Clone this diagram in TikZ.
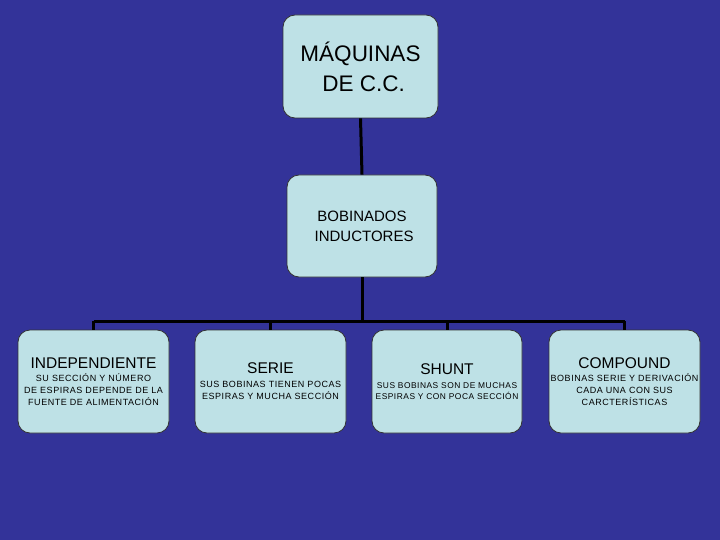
\documentclass[tikz,border=0pt]{standalone}
\usepackage{fontspec}
\setmainfont{Liberation Sans}
\newfontfamily\spaced[LetterSpace=6]{Liberation Sans}
\definecolor{bgblue}{RGB}{51,51,153}
\definecolor{boxfill}{RGB}{190,225,230}
\tikzset{
  box/.style={draw=black!80, line width=0.8pt, fill=boxfill, rounded corners=12pt,
    minimum width=151pt, minimum height=103pt, inner sep=0pt, align=center, text=black},
  conn/.style={line width=3pt, draw=black},
  small/.style={font=\spaced\fontsize{9}{12}\selectfont},
}
\newcommand{\ttlsz}{\rmfamily\fontsize{15.5}{17}\selectfont}
\begin{document}
\begin{tikzpicture}[x=1pt,y=-1pt]
\fill[bgblue] (0,0) rectangle (720,540);
\useasboundingbox (0,0) rectangle (720,540);
\node[box, minimum width=155pt, font=\fontsize{22.5}{30}\selectfont] (top) at (360.5,66.5)
  {MÁQUINAS\\\ DE C.C.};
\node[box, minimum width=150pt, minimum height=102pt, font=\fontsize{15}{20}\selectfont] (mid) at (362,226)
  {BOBINADOS\\\ INDUCTORES};
\node[box, small] (b1) at (93.5,381.5)
  {{\ttlsz INDEPENDIENTE}\\[1pt]
   SU SECCIÓN Y NÚMERO\\DE ESPIRAS DEPENDE DE LA\\FUENTE DE ALIMENTACIÓN};
\node[box, small] (b2) at (270.5,381.5)
  {{\ttlsz SERIE}\\[2pt]
   SUS BOBINAS TIENEN POCAS\\ESPIRAS Y MUCHA SECCIÓN};
\node[box, minimum width=150pt, font=\spaced\fontsize{8.4}{11}\selectfont] (b3) at (447,381.5)
  {{\ttlsz SHUNT}\\[3pt]
   SUS BOBINAS SON DE MUCHAS\\ESPIRAS Y CON POCA SECCIÓN};
\node[box, small] (b4) at (624.5,381.5)
  {{\ttlsz COMPOUND}\\[1pt]
   BOBINAS SERIE Y DERIVACIÓN\\CADA UNA CON SUS\\CARCTERÍSTICAS};
\coordinate (bus) at (362,321);
\draw[conn] (top.south) -- (mid.north);
\draw[conn] (mid.south) -- (bus);
\draw[conn] (b1.north |- bus) -- (b4.north |- bus);
\foreach \n in {b1,b2,b3,b4} \draw[conn] (bus -| \n.north) -- (\n.north);
\end{tikzpicture}
\end{document}
